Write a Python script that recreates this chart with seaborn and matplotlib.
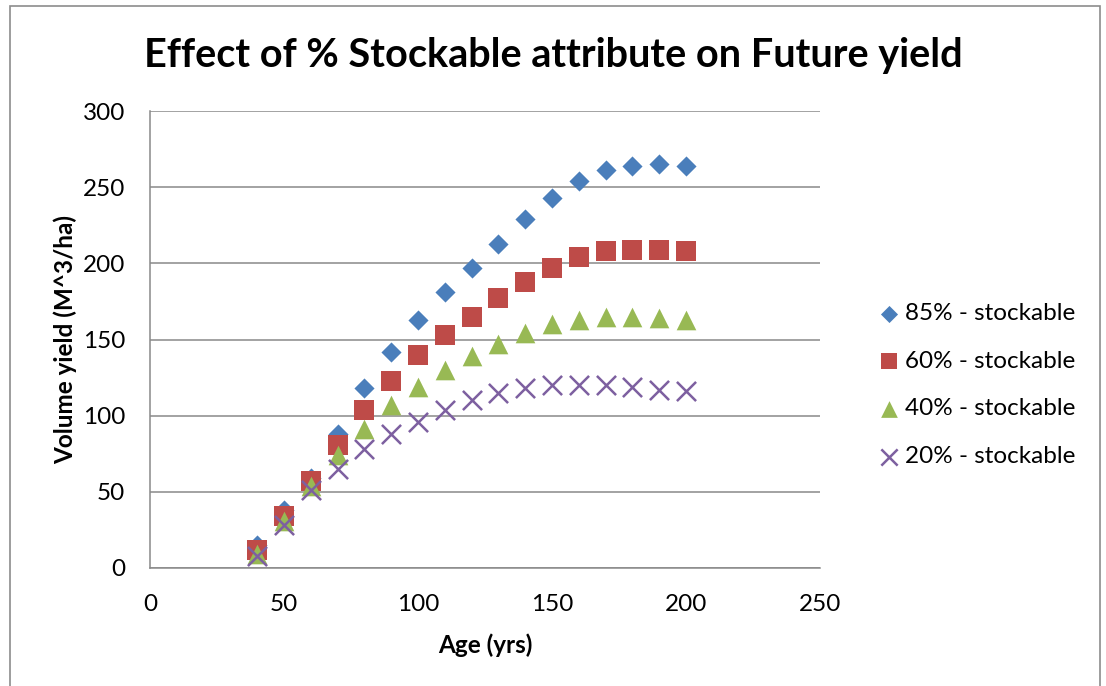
import pandas as pd
import matplotlib.pyplot as plt
import seaborn as sns
from matplotlib.patches import Rectangle

# data
ages = [40, 50, 60, 70, 80, 90, 100, 110, 120, 130, 140, 150, 160, 170, 180, 190, 200]
stock_85 = [15, 38, 59, 88, 118, 142, 163, 181, 197, 213, 229, 243, 254, 261, 264, 265, 264]
stock_60 = [12, 34, 57, 81, 104, 123, 140, 153, 165, 177, 188, 197, 204, 208, 209, 209, 208]
stock_40 = [9, 31, 54, 74, 91, 107, 119, 130, 139, 147, 154, 160, 163, 165, 165, 164, 163]
stock_20 = [8, 28, 51, 65, 78, 88, 96, 104, 110, 115, 118, 120, 120, 120, 119, 117, 116]
labels = ["85% - stockable", "60% - stockable", "40% - stockable", "20% - stockable"]
x_ticks = [0, 50, 100, 150, 200, 250]
y_ticks = [0, 50, 100, 150, 200, 250, 300]

sns.set_style("white")
plt.rcParams['font.family'] = ['Lato', 'DejaVu Sans']
plt.rcParams['text.color'] = 'black'
plt.rcParams['axes.labelcolor'] = 'black'
plt.rcParams['xtick.color'] = 'black'
plt.rcParams['ytick.color'] = 'black'

fig = plt.figure(figsize=(11.06, 6.86), dpi=100)
ax = fig.add_axes([150 / 1106, 1 - 568 / 686, 670 / 1106, 457 / 686])

series = [stock_85, stock_60, stock_40, stock_20]
markers = ['D', 's', '^', 'x']
colors = ['#4A7EBB', '#BE4B48', '#98B954', '#7D60A0']
sizes = [105, 190, 200, 190]

for vals, lab, m, c, s in zip(series, labels, markers, colors, sizes):
    df = pd.DataFrame({'age': ages, 'vol': vals})
    if m == 'x':
        sns.scatterplot(data=df, x='age', y='vol', marker=m, s=s, color=c,
                        linewidth=1.8, label=lab, ax=ax, zorder=3)
    else:
        sns.scatterplot(data=df, x='age', y='vol', marker=m, s=s, color=c,
                        linewidth=0, label=lab, ax=ax, zorder=3)

ax.set_xlim(0, 250)
ax.set_ylim(0, 300)
ax.set_xticks(x_ticks)
ax.set_yticks(y_ticks)
ax.yaxis.grid(True, color='#898989', linewidth=1.1)
ax.set_axisbelow(True)
for side in ['top', 'right']:
    ax.spines[side].set_visible(False)
for side in ['left', 'bottom']:
    ax.spines[side].set_color('#898989')
    ax.spines[side].set_linewidth(1.1)
ax.tick_params(axis='both', length=0, labelsize=17.5)
ax.tick_params(axis='x', pad=19)
ax.tick_params(axis='y', pad=18)

ax.set_xlabel('Age (yrs)', fontsize=17.5, fontweight='bold', labelpad=13)
ax.set_ylabel('Volume yield (M^3/ha)', fontsize=17.5, fontweight='bold', labelpad=4)
fig.text(0.5, 1 - 55 / 686, 'Effect of % Stockable attribute on Future yield',
         ha='center', va='center', fontsize=28.5, fontweight='bold')

ax.legend_.remove()
handles, labs = ax.get_legend_handles_labels()
fig.legend(handles, labs, loc='upper left', bbox_to_anchor=(854 / 1106, 1 - 281 / 686),
           frameon=False, fontsize=17.5, labelspacing=1.1, handletextpad=0.1,
           handlelength=1.1, markerscale=0.85)

fig.patches.append(Rectangle((10 / 1106, -0.02), 1090 / 1106, 1.02 - 6 / 686,
                             transform=fig.transFigure, fill=False,
                             edgecolor='#8C8C8C', linewidth=1.2))

fig.savefig('out.png', dpi=100)
